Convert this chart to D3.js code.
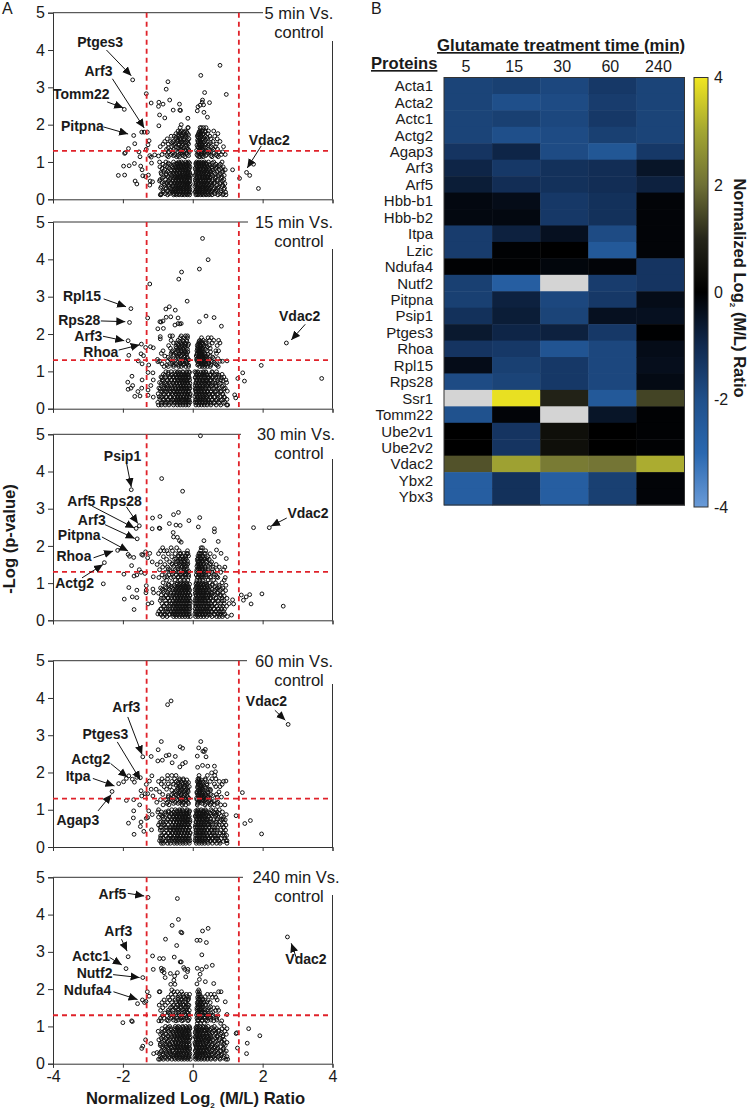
<!DOCTYPE html>
<meta charset="utf-8">
<style>
body { margin: 0; background: #fff; }
svg { display: block; }
text { font-family: 'Liberation Sans', sans-serif; fill: #1a1a1a; }
.tick-label { font-size: 16px; }
.gene { font-size: 14px; font-weight: bold; }
.title { font-size: 16.5px; }
.head { font-size: 16.6px; font-weight: bold; }
.domain, .tick line, .frame { stroke: #333; stroke-width: 1; fill: none; }
.cut { stroke: #e0222a; stroke-width: 1.8; stroke-dasharray: 5 4; fill: none; }
.pt { fill: none; stroke: #111; stroke-width: 1; }
.arrow { stroke: #111; stroke-width: 1; fill: none; }
</style>
<body>
<div id="fig"></div>
<script src="https://cdnjs.cloudflare.com/ajax/libs/d3/7.8.5/d3.min.js"></script>
<script>
// volcano panels: sparse = [x, y] pairs, dense = [y, [x, x, ...]] rows
var sparse5 = [[-1.72,3.2],[-1.33,2.83],[-1.96,2.41],[-1.19,2.58],[-.98,2.49],[-.97,2.6],[-.85,2.55],[-.76,2.95],[-.71,3.15],[-.66,2.66],[-.56,2.39],[-.38,2.55],[-.37,2.39],[-.35,2.38],[-.95,2.26],[-.8,2.18],[-.14,2.17],[-.97,1.97],[.23,3.32],[.78,3.59],[.34,2.86],[.96,2.81],[.28,2.66],[.27,2.6],[.21,2.52],[.15,2.48],[.31,2.53],[.48,2.59],[.13,2.37],[.32,2.33],[.42,2.2],[-1.69,1.71],[-1.66,1.49],[-1.84,1.36],[-1.93,1.25],[-1.95,1.23],[-1.46,1.8],[-1.39,1.8],[-1.3,1.8],[-1.25,1.57],[-1.28,1.46],[-1.33,1.34],[-1.54,1.27],[-1.51,1.14],[-1.23,1.17],[-1.19,1.13],[-1.09,1.19],[-.98,1.16],[-1.98,.89],[-1.82,.9],[-1.67,.96],[-1.49,.89],[-1.45,.79],[-1.43,.63],[-2.13,.64],[-1.95,.65],[-1.65,.49],[-1.6,.41],[-1.35,.61],[-1.27,.65],[-1.23,.38],[-1.22,.49],[-1.15,.47],[-1.18,.97],[1.14,.79],[1.34,.56],[1.54,.72],[1.63,.64],[1.74,.94],[1.88,.29]];
var dense5 = [
[.12,[-.93,-.91,-.72,-.55,-.47,-.39,-.31,-.24,-.16,-.09,.09,.15,.23,.3,.38,.46,.55,.72,.86,.95]],
[.19,[-.84,-.66,-.58,-.5,-.43,-.35,-.27,-.2,-.12,-.07,.07,.12,.19,.27,.34,.42,.51,.63,.8,.94]],
[.27,[-.78,-.6,-.53,-.46,-.38,-.3,-.23,-.15,-.08,.1,.17,.24,.31,.39,.47,.59,.68,.89]],
[.34,[-.9,-.69,-.56,-.49,-.41,-.33,-.26,-.18,-.11,.06,.13,.21,.28,.36,.44,.53,.74,.84]],
[.42,[-.82,-.74,-.61,-.52,-.44,-.37,-.29,-.21,-.14,-.07,.09,.16,.25,.33,.41,.5,.61,.78,.92]],
[.49,[-.95,-.7,-.57,-.48,-.4,-.32,-.24,-.17,-.09,.08,.14,.22,.29,.37,.45,.56,.7,.85]],
[.57,[-.87,-.64,-.54,-.46,-.39,-.31,-.23,-.15,-.08,.11,.18,.26,.34,.42,.49,.64,.81]],
[.64,[-.76,-.6,-.51,-.43,-.35,-.28,-.2,-.12,-.06,.07,.13,.2,.28,.35,.44,.54,.73,.9]],
[.72,[-.91,-.68,-.56,-.47,-.38,-.3,-.22,-.14,-.09,.1,.17,.24,.32,.4,.5,.62,.83]],
[.79,[-.8,-.62,-.53,-.44,-.36,-.27,-.19,-.11,.08,.15,.22,.3,.38,.47,.58,.76,.93]],
[.87,[-.94,-.73,-.58,-.49,-.41,-.33,-.25,-.17,-.08,.12,.19,.27,.35,.43,.55,.69,.87]],
[.94,[-.85,-.66,-.52,-.45,-.37,-.29,-.21,-.13,.09,.16,.24,.31,.39,.48,.66,.79]],
[1,[-.95,-.77,-.55,-.4,-.32,-.2,-.12,.11,.18,.25,.34,.45,.6,.84]],
[1.14,[-.7,-.46,-.38,-.22,.17,.21,.3,.55,.73]],
[1.2,[-.88,-.62,-.52,-.31,-.16,.12,.24,.4,.66,.82,.93]],
[1.27,[-.8,-.68,-.43,-.26,-.1,.15,.28,.35,.5,.75,.86]],
[1.34,[-.75,-.55,-.37,-.3,-.13,.2,.27,.44,.6,.71]],
[1.41,[-.93,-.6,-.47,-.34,-.2,.14,.23,.31,.53,.65,.88]],
[1.48,[-.85,-.7,-.5,-.39,-.28,-.12,.18,.26,.38,.47,.68]],
[1.55,[-.8,-.64,-.56,-.44,-.3,-.17,.15,.22,.33,.58,.78]],
[1.62,[-.73,-.49,-.36,-.24,-.11,.2,.29,.42,.52,.7]],
[1.69,[-.62,-.53,-.4,-.31,-.19,.13,.25,.36,.49,.63]],
[1.76,[-.48,-.37,-.27,-.15,.17,.23,.31,.43,.72]],
[1.83,[-.42,-.33,-.22,.2,.27,.35,.45,.6]],
[1.92,[-.36,-.14,-.13,.21,.25,.31,.38]],
[2,[-.33]]];

var sparse15 = [[.28,4.56],[.44,3.99],[.19,3.74],[-.32,3.66],[-.4,3.47],[-1.23,3.34],[-.16,2.88],[-1.77,2.68],[-1.81,2.31],[-1.29,2.43],[-.77,2.67],[-.67,2.73],[-.5,2.64],[-.76,2.45],[-.63,2.46],[-.42,2.43],[-.94,2.33],[-.85,2.35],[-.91,2.32],[-.51,2.24],[-.42,2.28],[-.33,2.28],[-.37,2.27],[-1,2.14],[-.84,2.15],[.19,2.33],[.38,2.48],[.61,2.44],[.82,2.21],[-1.85,1.82],[-1.83,1.43],[-1.47,1.73],[-1.35,1.64],[-1.21,1.66],[-1.13,1.63],[-1.48,1.47],[-1.41,1.42],[-1.56,1.28],[-1.45,1.2],[-1.26,1.17],[-1.01,1.32],[-1,1.26],[-1.74,.87],[-1.86,.71],[-1.85,.52],[-1.77,.55],[-1.72,.62],[-1.66,.33],[-1.57,.46],[-1.51,.34],[-1.45,.77],[-1.46,.55],[-1.28,.97],[-1.14,.96],[-1.13,.77],[-1.2,.62],[-1.28,.5],[-1.28,.36],[-1.13,.31],[-.93,1.87],[-.93,1.93],[.98,1.28],[1.29,.81],[1.43,.96],[1.48,.74],[1.96,1.16],[2.68,1.76],[3.69,.81],[1.2,.37],[1.23,.29]];
var dense15 = [
[.1,[-.98,-.9,-.79,-.68,-.55,-.44,-.36,-.28,-.2,-.12,.09,.17,.25,.33,.41,.52,.67,.8,.97,1]],
[.17,[-1,-.86,-.74,-.62,-.5,-.4,-.33,-.24,-.16,-.08,.07,.13,.21,.29,.37,.48,.6,.74,.92]],
[.25,[-.94,-.82,-.71,-.58,-.47,-.38,-.29,-.22,-.13,.1,.18,.26,.34,.44,.56,.7,.85,.98]],
[.32,[-.96,-.88,-.76,-.64,-.54,-.42,-.35,-.26,-.18,-.09,.06,.14,.22,.31,.39,.5,.63,.78,.9]],
[.4,[-.99,-.84,-.7,-.6,-.49,-.41,-.31,-.23,-.15,-.07,.11,.19,.27,.35,.46,.58,.72,.86]],
[.47,[-.92,-.8,-.66,-.56,-.45,-.37,-.28,-.2,-.11,.08,.15,.23,.32,.42,.53,.68,.82,.99]],
[.55,[-.97,-.83,-.72,-.61,-.51,-.39,-.32,-.24,-.16,-.08,.1,.17,.25,.36,.47,.61,.76,.93]],
[.62,[-.89,-.75,-.63,-.53,-.43,-.34,-.27,-.19,-.1,.07,.13,.21,.3,.4,.54,.66,.88]],
[.7,[-.95,-.81,-.69,-.57,-.46,-.38,-.3,-.22,-.14,.09,.18,.26,.35,.45,.57,.73,.97]],
[.77,[-.87,-.73,-.6,-.52,-.41,-.33,-.25,-.17,-.09,.12,.2,.28,.38,.5,.64,.81,.95]],
[.85,[-.91,-.78,-.65,-.54,-.44,-.36,-.28,-.2,-.12,.08,.16,.24,.34,.43,.59,.75,.89]],
[.92,[-.84,-.7,-.58,-.48,-.39,-.31,-.23,-.15,.11,.19,.29,.4,.52,.69,.84]],
[.99,[-.77,-.62,-.5,-.42,-.29,-.18,-.11,.06,.14,.3,.37,.55,.68]],
[1.13,[-.82,-.7,-.55,-.4,-.33,-.2,-.12,.2,.27,.34,.42,.5,.73]],
[1.2,[-.88,-.6,-.47,-.36,-.24,-.17,.16,.24,.31,.38,.46,.65]],
[1.27,[-.95,-.72,-.52,-.3,-.2,.13,.2,.27,.35,.44,.55,.78,.85]],
[1.34,[-.66,-.41,-.28,-.15,.12,.18,.25,.33,.4,.6,.72]],
[1.41,[-.8,-.55,-.44,-.34,-.22,.1,.17,.23,.3,.38,.5]],
[1.48,[-.9,-.62,-.48,-.36,-.26,-.18,.13,.2,.26,.34,.68]],
[1.55,[-.85,-.58,-.43,-.33,-.24,.12,.18,.25,.41,.66,.74]],
[1.62,[-.64,-.47,-.38,-.27,-.19,.14,.21,.29,.5]],
[1.69,[-.69,-.41,-.31,-.25,-.14,.13,.2,.33,.47,.7]],
[1.76,[-.55,-.46,-.34,-.22,.18,.26,.38,.56,.78]],
[1.83,[-.62,-.42,-.29,-.18,.2,.3,.48,.6,.74]],
[1.9,[-.36,-.26,-.15,.25,.44,.53]],
[1.95,[-.65,-.58,-.33,-.21,-.15]]];

var sparse30 = [[.22,4.96],[-.89,3.81],[-.29,3.47],[-1.76,3.51],[-1.53,2.54],[-1.62,2.47],[-1.59,2.19],[-2.15,1.88],[-1.85,1.77],[-1.81,1.72],[-1.69,1.69],[-1.75,1.47],[-2.53,1.55],[-2.56,.98],[-1.97,1.24],[-1.68,1.19],[-1.6,1.22],[-1.53,1.36],[-1.48,1.29],[-1.37,1.26],[-1.46,1.77],[-1.43,1.75],[-1.35,1.84],[-1.23,1.8],[-1.29,1.68],[-1.16,1.57],[-1.13,1.17],[-1.83,.88],[-1.6,.81],[-1.96,.57],[-1.73,.63],[-1.6,.61],[-1.68,.29],[-1.33,.93],[-1.33,.81],[-1.34,.74],[-1.28,.44],[-1.17,.47],[-1.14,.84],[-1.12,.74],[-1.15,2.75],[-.94,2.79],[-1.16,2.46],[-.96,2.48],[-.94,2.47],[-.67,2.6],[-.55,2.84],[-.41,2.9],[-.48,2.56],[-.36,2.55],[-.56,2.36],[-.55,2.24],[-.44,2.23],[-.38,2.14],[-.33,2.1],[-.11,2.68],[.2,2.76],[.16,2.51],[.62,2.46],[.62,2.38],[.32,2.14],[.73,2.12],[.68,1.89],[.81,1.8],[.96,1.66],[1.39,.68],[1.45,.54],[1.53,.63],[1.63,.69],[1.67,.44],[1.14,.55],[1.17,.44],[1.11,.14],[1.98,.71],[2.59,.38],[1.74,2.49],[2.19,2.49]];
var dense30 = [
[.1,[-.86,-.74,-.55,-.47,-.38,-.3,-.22,-.14,-.07,.08,.15,.23,.31,.4,.55,.68,.76,.85,.99]],
[.17,[-1,-.93,-.82,-.66,-.58,-.5,-.42,-.34,-.26,-.18,-.1,.06,.12,.2,.28,.36,.47,.62,.72,.8,.92]],
[.24,[-.97,-.78,-.62,-.53,-.45,-.37,-.29,-.21,-.13,.1,.17,.25,.33,.42,.52,.66,.75,.88]],
[.31,[-.9,-.7,-.56,-.48,-.4,-.32,-.24,-.16,-.08,.07,.14,.22,.3,.38,.49,.6,.73,.83]],
[.38,[-.84,-.64,-.52,-.44,-.36,-.28,-.2,-.12,.09,.16,.24,.32,.41,.53,.68,.79,.97]],
[.45,[-.76,-.58,-.49,-.41,-.33,-.25,-.17,-.09,.06,.13,.21,.29,.37,.46,.63,.9,1.04]],
[.52,[-.66,-.55,-.46,-.38,-.3,-.22,-.14,-.07,.11,.18,.26,.34,.44,.58,.74,.84]],
[.59,[-.9,-.71,-.52,-.43,-.35,-.27,-.19,-.11,.08,.15,.23,.31,.4,.51,.67,.98]],
[.66,[-.78,-.6,-.48,-.4,-.32,-.24,-.16,-.08,.1,.19,.27,.36,.47,.6,.81,.9]],
[.73,[-.98,-.63,-.54,-.44,-.36,-.28,-.2,-.12,.07,.14,.22,.3,.39,.55,.72]],
[.8,[-.85,-.7,-.5,-.41,-.33,-.25,-.17,-.09,.12,.2,.28,.37,.48,.62,.78,.94]],
[.87,[-.92,-.76,-.58,-.46,-.37,-.29,-.21,-.13,.09,.17,.25,.34,.44,.7,.86]],
[.94,[-.68,-.52,-.4,-.31,-.23,-.15,.13,.21,.3,.41,.56,.76,.95]],
[1.01,[-.85,-.6,-.45,-.34,-.26,-.18,.1,.18,.26,.38,.49,.65,.84]],
[1.08,[-.75,-.5,-.36,-.24,-.14,.12,.2,.28,.44,.6,.9]],
[1.15,[-.97,-.8,-.62,-.42,-.3,-.2,.14,.22,.31,.5,.72,.93]],
[1.22,[-.88,-.68,-.47,-.35,-.22,-.12,.1,.18,.27,.38,.66]],
[1.29,[-.78,-.55,-.4,-.28,-.17,.15,.23,.33,.55,.8]],
[1.36,[-.95,-.65,-.5,-.34,-.2,.12,.2,.28,.44,.7,.88]],
[1.43,[-.86,-.72,-.44,-.3,-.24,.17,.24,.36,.58,.76,.92]],
[1.5,[-1.02,-.8,-.58,-.38,-.27,-.16,.14,.22,.31,.48,.67]],
[1.57,[-.92,-.66,-.48,-.33,-.23,.16,.27,.4,.54]],
[1.64,[-.75,-.52,-.36,-.28,-.19,.13,.24,.35,.47]],
[1.71,[-.84,-.6,-.4,-.3,-.22,.18,.29,.43,.62]],
[1.79,[-.98,-.7,-.5,-.34,-.14,.2,.33,.5]],
[1.87,[-.92,-.82,-.74,-.58,-.39,-.15,.23,.37]],
[1.95,[-.86,-.62,-.46,.24,.28]]];

var sparse60 = [[-.72,3.82],[-.62,3.92],[2.73,3.29],[-1.43,2.42],[-1.19,2.43],[-.99,2.61],[-.9,2.83],[-1,2.31],[-.87,2.33],[-.76,2.45],[-.68,2.47],[-.59,2.26],[-.5,2.43],[-.36,2.69],[-.29,2.65],[-.21,2.27],[-.29,2.23],[-.37,2.15],[.23,2.83],[.17,2.66],[.13,2.44],[.29,2.57],[.36,2.62],[.38,2.42],[.33,2.56],[.14,2.14],[.28,2.19],[.43,2.17],[.62,2.17],[.54,1.99],[.65,2.02],[-2.12,1.7],[-1.98,1.75],[-1.9,1.84],[-1.83,1.91],[-1.73,1.82],[-1.67,1.74],[-1.6,1.87],[-1.5,1.86],[-2.31,1.49],[-1.9,1.25],[-1.69,1.27],[-1.48,1.51],[-1.36,1.43],[-1.29,1.43],[-1.33,1.68],[-1.24,1.77],[-1.17,1.91],[-1.19,1.55],[-1.14,1.37],[-1.46,1.37],[-1.52,1.13],[-1.69,.97],[-1.7,.78],[-1.84,.64],[-1.68,.34],[-1.48,.67],[-1.5,.55],[-1.4,.42],[-1.33,.77],[-1.26,.97],[-1.16,.87],[-1.18,.46],[-1.29,.79],[.98,1.43],[1.42,1.46],[1.24,.84],[1.49,.63],[1.65,.71],[1.97,.35],[.95,1.77],[.84,1.68]];
var dense60 = [
[.1,[-.9,-.84,-.72,-.64,-.53,-.45,-.36,-.28,-.2,-.1,.1,.18,.26,.34,.44,.56,.68,.78,.98]],
[.17,[-.95,-.86,-.76,-.6,-.5,-.42,-.33,-.25,-.16,-.08,.07,.14,.22,.3,.38,.5,.64,.75,.95,.98]],
[.24,[-.92,-.68,-.57,-.47,-.39,-.3,-.22,-.13,.12,.19,.27,.35,.46,.58,.72,.92]],
[.31,[-.88,-.78,-.63,-.54,-.44,-.36,-.27,-.19,-.1,.08,.16,.24,.32,.42,.53,.66,.85,.97]],
[.38,[-.82,-.7,-.6,-.5,-.41,-.33,-.24,-.15,-.07,.11,.2,.28,.37,.48,.6,.78,.9]],
[.45,[-.93,-.66,-.56,-.46,-.38,-.29,-.21,-.12,.09,.15,.23,.31,.4,.55,.7,.94]],
[.52,[-.9,-.75,-.62,-.52,-.43,-.35,-.26,-.17,-.09,.12,.19,.27,.36,.47,.63,.88]],
[.59,[-.98,-.8,-.58,-.49,-.4,-.32,-.23,-.14,.08,.16,.24,.33,.44,.56,.76,.95]],
[.66,[-.94,-.84,-.64,-.55,-.45,-.37,-.28,-.19,-.1,.1,.18,.26,.35,.5,.68,.9]],
[.73,[-.72,-.6,-.5,-.42,-.33,-.25,-.16,-.08,.13,.21,.29,.39,.6,.82,.93]],
[.8,[-.98,-.86,-.66,-.56,-.46,-.38,-.29,-.21,-.12,.09,.17,.25,.34,.45,.72,.88]],
[.87,[-.92,-.76,-.6,-.51,-.42,-.34,-.26,-.17,.11,.19,.28,.38,.52,.68,.96]],
[.94,[-1,-.9,-.78,-.68,-.55,-.45,-.36,-.27,-.18,-.1,.12,.2,.3,.41,.6,.7,.85]],
[1,[-.98,-.6,-.5,-.38,-.3,-.16,.14,.24,.36,.52,.66,.76]],
[1.13,[-.85,-.68,-.3,-.2,.13,.35,.5,.62,.8,.92]],
[1.2,[-1.03,-.72,-.5,-.38,-.27,-.14,.15,.22,.42,.56,.72]],
[1.27,[-.92,-.78,-.62,-.45,-.33,-.2,.12,.2,.29,.36,.48]],
[1.34,[-.7,-.55,-.4,-.28,-.15,.17,.25,.33,.43,.7,.82]],
[1.41,[-.86,-.6,-.47,-.34,-.22,.14,.22,.38,.52,.68]],
[1.48,[-.95,-.5,-.36,-.25,-.13,.12,.19,.3,.42,.75]],
[1.55,[-1.05,-.75,-.43,-.3,-.18,.2,.27,.45,.5]],
[1.62,[-.82,-.65,-.38,-.24,-.1,.14,.23,.34,.66,.78]],
[1.69,[-.9,-.7,-.55,-.42,-.28,-.16,.16,.28,.4,.62]],
[1.76,[-.98,-.82,-.6,-.47,-.34,.13,.2,.5,.76,.88]],
[1.83,[-.88,-.72,-.52,-.38,-.27,.15,.18,.36,.55,.66]],
[1.92,[-.72,-.6,-.48,.18,.42,.63]]];

var sparse240 = [[-1.28,4.46],[-.44,4.43],[-.41,3.87],[-.59,3.71],[-.34,3.53],[-.31,3.51],[-.78,3.34],[-.46,3.17],[.44,3.63],[.28,3.56],[.12,3.31],[.21,3.31],[.39,3.25],[.26,2.92],[2.71,3.4],[-1.85,2.87],[-1.91,2.55],[-1.43,2.31],[-1.15,2.89],[-.95,2.82],[-.84,2.82],[-.53,2.86],[-.36,2.73],[-.33,2.73],[-1.13,2.53],[-.9,2.56],[-.84,2.53],[-.88,2.49],[-.82,2.44],[-.79,2.31],[-.64,2.42],[-.52,2.35],[-.44,2.44],[-.54,2.24],[-.63,2.13],[-.51,2.13],[-.26,2.58],[-.23,2.53],[-.14,2.53],[-.15,2.47],[-.2,2.33],[.13,2.56],[.26,2.53],[.39,2.6],[.56,2.64],[.21,2.4],[.12,2.14],[.19,2.26],[.36,2.2],[.6,2.15],[-1.3,1.93],[-1.25,1.81],[-1.44,1.71],[-1.38,1.64],[-1.58,1.61],[-1.34,1.67],[-2,1.1],[-1.75,1.15],[-1.73,1.13],[-1.35,.64],[-1.46,.41],[-1.43,.47],[-1.2,.54],[-1.12,.27],[-1.02,.3],[.98,1.32],[1.26,.83],[1.24,.81],[1.28,.42],[1.6,.94],[1.56,.55],[1.54,.27],[1.92,.75],[.93,1.66],[.81,1.93]];
var dense240 = [
[.12,[-.98,-.94,-.84,-.72,-.6,-.5,-.41,-.32,-.24,-.15,-.07,.08,.16,.24,.33,.42,.52,.64,.78,.95,1]],
[.19,[-.92,-.8,-.68,-.56,-.46,-.37,-.28,-.2,-.11,.06,.12,.2,.28,.38,.48,.6,.74,.9,.98]],
[.27,[-.96,-.86,-.75,-.63,-.52,-.43,-.34,-.25,-.16,-.08,.1,.18,.26,.35,.45,.56,.7,.84]],
[.34,[-.9,-.78,-.66,-.58,-.47,-.39,-.3,-.22,-.13,.07,.14,.22,.31,.41,.54,.66,.8,.96]],
[.42,[-.84,-.71,-.61,-.5,-.42,-.33,-.25,-.17,-.09,.11,.19,.27,.36,.47,.6,.72,.88]],
[.49,[-.93,-.76,-.64,-.54,-.45,-.36,-.27,-.19,-.1,.08,.15,.23,.32,.43,.55,.68,.93]],
[.57,[-.88,-.73,-.59,-.49,-.4,-.31,-.23,-.14,.06,.12,.2,.29,.39,.5,.63,.82,.98]],
[.64,[-.97,-.81,-.67,-.55,-.46,-.37,-.28,-.2,-.11,.1,.17,.25,.34,.46,.58,.76,.9]],
[.72,[-.86,-.7,-.6,-.51,-.42,-.33,-.24,-.15,-.07,.07,.14,.22,.31,.41,.53,.7,.86]],
[.79,[-.92,-.77,-.64,-.54,-.45,-.36,-.27,-.18,-.1,.11,.19,.28,.38,.49,.65,.8,.96]],
[.87,[-.99,-.82,-.69,-.57,-.47,-.39,-.3,-.21,-.12,.08,.16,.24,.35,.45,.6,.74,.92]],
[.94,[-.88,-.74,-.62,-.52,-.43,-.34,-.25,-.16,-.08,.1,.18,.27,.4,.52,.68,.84,.98]],
[1,[-.78,-.66,-.5,-.41,-.29,-.2,-.1,.12,.2,.3,.44,.62,.9]],
[1.08,[.13,.22,.33,.8]],
[1.15,[-.97,-.9,-.7,-.48,-.31,-.14,.15,.26,.42,.6,.83]],
[1.22,[-.92,-.82,-.62,-.44,-.25,-.1,.12,.21,.35,.5,.68]],
[1.29,[-.87,-.74,-.55,-.38,-.2,.16,.28,.44,.58,.72]],
[1.36,[-.8,-.66,-.48,-.3,-.13,.13,.24,.34,.52]],
[1.43,[-.92,-.7,-.58,-.42,-.26,-.1,.15,.22,.4,.66,.74]],
[1.5,[-.86,-.64,-.5,-.35,-.18,.12,.26,.46,.6,.7]],
[1.57,[-.96,-.78,-.56,-.44,-.28,-.11,.16,.21,.36]],
[1.64,[-.88,-.72,-.6,-.38,-.2,.13,.24,.32,.5]],
[1.71,[-.82,-.66,-.5,-.34,-.14,.18,.28,.44,.7]],
[1.78,[-.7,-.58,-.42,-.26,-.12,.14,.22,.56,.66]],
[1.86,[-.62,-.5,-.38,-.28,-.18,-.09,.16,.2,.42,.52,.62]],
[1.93,[-.96,-.94,-.54,-.44,-.32,.14,.19,.74]],
[1.98,[-.6,.17]]];

// the black core of every panel is too packed to read point by point, one estimate for all five
var core = [
[.15,[-.9,-.79,-.67,-.53,-.45,-.37,-.28,-.2,-.12,.11,.19,.27,.35,.43,.51,.63,.77,.88]],
[.23,[-.85,-.72,-.62,-.55,-.48,-.41,-.33,-.26,-.18,-.1,.08,.14,.21,.3,.37,.46,.54,.66,.81]],
[.3,[-.92,-.76,-.65,-.5,-.43,-.35,-.27,-.19,-.11,.12,.2,.28,.35,.42,.5,.62,.72,.91]],
[.38,[-.81,-.69,-.56,-.47,-.39,-.31,-.23,-.16,-.09,.09,.16,.23,.31,.39,.47,.55,.69,.86]],
[.45,[-.88,-.75,-.63,-.52,-.44,-.36,-.28,-.2,-.13,.1,.18,.26,.34,.42,.52,.64,.8]],
[.53,[-.93,-.78,-.66,-.57,-.49,-.41,-.33,-.26,-.18,-.1,.07,.14,.22,.3,.38,.46,.56,.71,.89]],
[.6,[-.83,-.7,-.5,-.42,-.35,-.27,-.19,-.11,.12,.2,.28,.36,.43,.5,.67,.84]],
[.68,[-.9,-.76,-.64,-.55,-.46,-.38,-.3,-.23,-.16,-.08,.09,.16,.24,.31,.39,.47,.53,.65,.78]],
[.75,[-.84,-.72,-.52,-.44,-.37,-.29,-.21,-.13,.11,.19,.27,.35,.42,.51,.7,.87]],
[.83,[-.88,-.67,-.56,-.47,-.39,-.31,-.24,-.15,-.1,.07,.14,.22,.3,.38,.46,.55,.66,.82]],
[.9,[-.79,-.62,-.5,-.42,-.34,-.26,-.19,-.12,.11,.18,.26,.33,.41,.49,.63,.75]],
[.97,[-.7,-.45,-.37,-.28,-.16,-.09,.09,.15,.23,.31,.38,.56]]];
var shoulder = [
[1.17,[-.74,-.55,-.42,-.27,-.12,.14,.27,.37,.52,.69]],
[1.24,[-.58,-.36,-.31,-.18,.17,.25,.32,.46,.61]],
[1.31,[-.63,-.49,-.34,-.22,-.11,.11,.19,.3,.38,.48]],
[1.38,[-.7,-.42,-.25,-.16,.16,.21,.27,.36,.57]],
[1.45,[-.55,-.4,-.31,-.18,.12,.19,.26,.35,.44]],
[1.52,[-.6,-.47,-.33,-.21,-.14,.16,.24,.3,.51]],
[1.59,[-.43,-.35,-.25,-.15,.14,.2,.27,.37]],
[1.66,[-.48,-.36,-.22,.16,.23,.31,.41]],
[1.73,[-.42,-.31,-.2,-.12,.15,.21,.29]],
[1.8,[-.37,-.26,-.17,.18,.24,.36]]];

// labelled proteins: name, label x/y, arrow start x/y, arrow end x/y
var genes5 = [["Ptges3",-2.65,4.22,-2.47,4,-1.76,3.31],["Arf3",-2.7,3.44,-2.3,3.23,-1.39,1.91],["Tomm22",-3.19,2.82,-2.45,2.61,-1.99,2.45],["Pitpna",-3.16,1.97,-2.56,1.94,-1.85,1.75],["Vdac2",2.19,1.59,1.96,1.43,1.56,.84]];
var genes15 = [["Rpl15",-3.17,3.03,-2.55,2.94,-1.91,2.73],["Rps28",-3.25,2.37,-2.63,2.35,-1.93,2.33],["Arf3",-2.99,1.96,-2.57,1.94,-1.96,1.82],["Rhoa",-2.63,1.53,-2.12,1.57,-1.52,1.71],["Vdac2",3.06,2.47,3.22,2.26,2.82,1.84]];
var genes30 = [["Psip1",-2.01,4.41,-1.9,4.25,-1.76,3.58],["Arf5",-3.19,3.2,-2.88,3.07,-1.67,2.48],["Rps28",-2.06,3.2,-1.9,3.05,-1.57,2.6],["Arf3",-2.89,2.7,-2.51,2.57,-1.66,2.2],["Pitpna",-3.25,2.28,-2.6,2.24,-1.85,1.86],["Rhoa",-3.4,1.72,-2.84,1.68,-2.28,1.86],["Actg2",-3.38,.99,-3.17,1.14,-2.57,1.5],["Vdac2",3.3,2.88,2.69,2.75,2.24,2.53]];
var genes60 = [["Arf3",-1.9,3.77,-1.86,3.49,-1.45,2.48],["Ptges3",-2.5,3.03,-2.16,2.82,-1.5,1.8],["Actg2",-2.92,2.37,-2.35,2.24,-1.87,1.87],["Itpa",-3.28,1.91,-2.86,1.84,-2.24,1.64],["Agap3",-3.29,.72,-2.71,.97,-2.33,1.41],["Vdac2",2.11,3.91,2.35,3.67,2.65,3.4]];
var genes240 = [["Arf5",-2.3,4.55,-1.86,4.57,-1.39,4.5],["Arf3",-2.13,3.57,-2.04,3.34,-1.88,3.02],["Actc1",-2.91,2.9,-2.38,2.85,-2.03,2.65],["Nutf2",-2.81,2.44,-2.28,2.39,-1.52,2.31],["Ndufa4",-3.01,1.99,-2.27,1.93,-1.58,1.72],["Vdac2",3.24,2.82,2.96,2.85,2.82,3.23]];

var minutes = ["5","15","30","60","240"];
var proteins = ["Acta1","Acta2","Actc1","Actg2","Agap3","Arf3","Arf5","Hbb-b1","Hbb-b2","Itpa","Lzic","Ndufa4","Nutf2","Pitpna","Psip1","Ptges3","Rhoa","Rpl15","Rps28","Ssr1","Tomm22","Ube2v1","Ube2v2","Vdac2","Ybx2","Ybx3"];
// null = no measurement (grey)
var ratio5 = [-1.7,-1.7,-1.7,-1.7,-1.3,-.9,-.7,-.2,-.2,-1.5,-1.5,-.05,-1.6,-1.6,-1.2,-.6,-1.3,-.3,-1.9,null,-2.1,0,0,1.6,-2.6,-2.6];
var ratio15 = [-1.6,-2,-1.6,-2,-.9,-1.4,-1.1,-.3,-.2,-.8,-.05,-.05,-2.6,-.8,-.7,-.9,-1.4,-1.6,-1.7,3.9,-.1,-1.3,-1.3,2.9,-1.2,-1.2];
var ratio30 = [-1.8,-1.9,-1.8,-1.9,-1.9,-1.2,-1.2,-1.4,-1.4,-.4,0,-.15,null,-1.8,-1.7,-.8,-2.2,-1.4,-1.4,.9,null,.4,.4,2.2,-2.6,-2.6];
var ratio60 = [-1.4,-1.5,-1.4,-1.6,-2.3,-1.1,-1.1,-1.2,-1.2,-1.9,-2.4,-.1,-1.5,-1.4,-.4,-1.4,-1.8,-1.8,-1.8,-2.4,-.5,0,0,2.1,-1.6,-1.6];
var ratio240 = [-1.7,-1.7,-1.7,-1.7,-1.4,-.5,-.8,-.1,-.1,-.1,-.1,-1.3,-1.3,-.3,-.4,-.02,-.3,-.35,-.25,1.4,-.05,-.05,-.05,3.1,-.1,-.1];

var colorStops = [-4,-3,-2,-1,0,1,2,3,4];
var colorValues = ["#6a9bd8","#2a68b0","#1f4f8a","#10294f","#000000","#26261a","#6f7035","#a3a632","#f0e620"];
var yTicks = [0,1,2,3,4,5];
var xTicks = [-4,-2,0,2,4];
var cutX = [-1.32,1.32];
var cutY = 1.3;

var svg = d3.select('#fig').append('svg').attr('width', 749).attr('height', 1109);

svg.append('defs').append('marker')
  .attr('id', 'head')
  .attr('viewBox', '0 -5 10 10')
  .attr('refX', 10)
  .attr('markerUnits', 'userSpaceOnUse')
  .attr('markerWidth', 9)
  .attr('markerHeight', 9)
  .attr('orient', 'auto')
  .append('path').attr('d', 'M0,-4.5L10,0L0,4.5Z').attr('fill', '#111');

var panels = [
  {top: 12.7, bottom: 199.3, topEnd: 263, rightTop: 41, t: "5 min Vs.", tx: 299, sparse: sparse5, dense: dense5, genes: genes5},
  {top: 222, bottom: 408.7, topEnd: 248, rightTop: 249, t: "15 min Vs.", tx: 294, sparse: sparse15, dense: dense15, genes: genes15},
  {top: 434.3, bottom: 620.3, topEnd: 241, rightTop: 459, t: "30 min Vs.", tx: 296, sparse: sparse30, dense: dense30, genes: genes30},
  {top: 660.7, bottom: 847, topEnd: 247, rightTop: 684, t: "60 min Vs.", tx: 294, sparse: sparse60, dense: dense60, genes: genes60},
  {top: 877.3, bottom: 1063.7, topEnd: 243, rightTop: 895, t: "240 min Vs.", tx: 296, sparse: sparse240, dense: dense240, genes: genes240}
];

var x = d3.scaleLinear().domain([-4, 4]).range([53, 332.5]);
var plainNum = function(d) { return String(d); };

panels.forEach(function(p, i) {
  var y = d3.scaleLinear().domain([0, 5]).range([p.bottom, p.top]);
  var g = svg.append('g');

  var pts = p.sparse.slice();
  p.dense.concat(core, shoulder).forEach(function(r) {
    r[1].forEach(function(v) { pts.push([v, r[0]]); });
  });

  g.selectAll('circle').data(pts).enter().append('circle')
    .attr('class', 'pt')
    .attr('cx', function(d) { return x(d[0]); })
    .attr('cy', function(d) { return y(d[1]); })
    .attr('r', 1.9);

  var yAxis = g.append('g').attr('transform', 'translate(53,0)')
    .call(d3.axisLeft(y).tickValues(yTicks).tickSize(5).tickPadding(3).tickFormat(plainNum));
  var xAxis = g.append('g').attr('transform', 'translate(0,' + p.bottom + ')')
    .call(d3.axisBottom(x).tickValues(xTicks).tickSize(4).tickSizeOuter(4).tickPadding(3)
      .tickFormat(i == 4 ? plainNum : ''));
  yAxis.selectAll('text').attr('class', 'tick-label').style('font-size', '16px').style('font-family', null);
  xAxis.selectAll('text').attr('class', 'tick-label').style('font-size', '16px').style('font-family', null);

  g.append('line').attr('class', 'frame')
    .attr('x1', x(-4)).attr('x2', p.topEnd).attr('y1', y(5)).attr('y2', y(5));
  g.append('line').attr('class', 'frame')
    .attr('x1', x(4)).attr('x2', x(4)).attr('y1', p.rightTop).attr('y2', y(0));

  cutX.forEach(function(c) {
    g.append('line').attr('class', 'cut')
      .attr('x1', x(c)).attr('x2', x(c)).attr('y1', y(5)).attr('y2', y(0));
  });
  g.append('line').attr('class', 'cut')
    .attr('x1', x(-4)).attr('x2', x(3.93)).attr('y1', y(cutY)).attr('y2', y(cutY));

  g.append('text').attr('class', 'title').attr('text-anchor', 'middle')
    .attr('x', p.tx).attr('y', p.top + 6).text(p.t);
  g.append('text').attr('class', 'title').attr('text-anchor', 'middle')
    .attr('x', 299).attr('y', p.top + 25).text('control');

  p.genes.forEach(function(a) {
    g.append('text').attr('class', 'gene').attr('text-anchor', 'middle')
      .attr('x', x(a[1])).attr('y', y(a[2]) + 5).text(a[0]);
    g.append('line').attr('class', 'arrow').attr('marker-end', 'url(#head)')
      .attr('x1', x(a[3])).attr('y1', y(a[4]))
      .attr('x2', x(a[5])).attr('y2', y(a[6]));
  });
});

svg.append('text').attr('x', 2).attr('y', 14).style('font-size', '16px').text('A');
svg.append('text').attr('x', 371).attr('y', 14).style('font-size', '16px').text('B');

svg.append('text').attr('class', 'head').attr('text-anchor', 'middle')
  .attr('transform', 'translate(15,539) rotate(-90)').text('-Log (p-value)');

function log2Title(sel) {
  sel.append('tspan').text('Normalized Log');
  sel.append('tspan').attr('dy', 4).style('font-size', '8px').text('2');
  sel.append('tspan').attr('dy', -4).text(' (M/L) Ratio');
}
svg.append('text').attr('class', 'head').attr('text-anchor', 'middle')
  .attr('x', 195.5).attr('y', 1104).call(log2Title);

// heat map
var series = [ratio5, ratio15, ratio30, ratio60, ratio240];
var color = d3.scaleLinear().domain(colorStops).range(colorValues);
var hx = d3.scaleBand().domain(minutes).range([444, 684.5]);
var hy = d3.scaleBand().domain(proteins).range([77.5, 505]);

series.forEach(function(vals, c) {
  svg.append('g').selectAll('rect').data(vals).enter().append('rect')
    .attr('x', hx(minutes[c]))
    .attr('y', function(d, r) { return hy(proteins[r]); })
    .attr('width', hx.bandwidth() + 0.5)
    .attr('height', hy.bandwidth() + 0.5)
    .attr('fill', function(d) { return d === null ? '#d4d4d4' : color(d); });
});
svg.append('rect').attr('class', 'frame')
  .attr('x', 444).attr('y', 77.5).attr('width', 240.5).attr('height', 427.5);

svg.selectAll('.prot').data(proteins).enter().append('text')
  .attr('class', 'prot').attr('text-anchor', 'end')
  .attr('x', 433)
  .attr('y', function(d) { return hy(d) + hy.bandwidth() / 2 + 5.5; })
  .style('font-size', '15px')
  .text(function(d) { return d; });

svg.selectAll('.mins').data(minutes).enter().append('text')
  .attr('class', 'mins').attr('text-anchor', 'middle')
  .attr('x', function(d) { return hx(d) + hx.bandwidth() / 2 - 2; })
  .attr('y', 72)
  .style('font-size', '16px')
  .text(function(d) { return d; });

svg.append('text').attr('class', 'head').attr('x', 437).attr('y', 51)
  .style('font-size', '16.8px').style('text-decoration', 'underline').text('Glutamate treatment time (min)');
svg.append('text').attr('class', 'head').attr('x', 371).attr('y', 69)
  .style('text-decoration', 'underline').text('Proteins');

// colour bar
var cb = d3.scaleLinear().domain([-4, 4]).range([507, 77.5]);
var grad = svg.select('defs').append('linearGradient')
  .attr('id', 'bar').attr('x1', 0).attr('x2', 0).attr('y1', 1).attr('y2', 0);
colorStops.forEach(function(s) {
  grad.append('stop').attr('offset', (s + 4) / 8).attr('stop-color', color(s));
});
svg.append('rect').attr('x', 694).attr('y', 77.5).attr('width', 14).attr('height', 429.5)
  .attr('fill', 'url(#bar)').attr('stroke', '#333');
var cbAxis = svg.append('g').attr('transform', 'translate(708,0)')
  .call(d3.axisRight(cb).tickValues(xTicks).tickSize(0).tickPadding(6).tickFormat(plainNum));
cbAxis.select('.domain').remove();
cbAxis.selectAll('text').style('font-size', '16px').style('font-family', null);

svg.append('text').attr('class', 'head').attr('text-anchor', 'middle')
  .attr('transform', 'translate(733.5,288) rotate(90)').call(log2Title);
</script>
</body>
